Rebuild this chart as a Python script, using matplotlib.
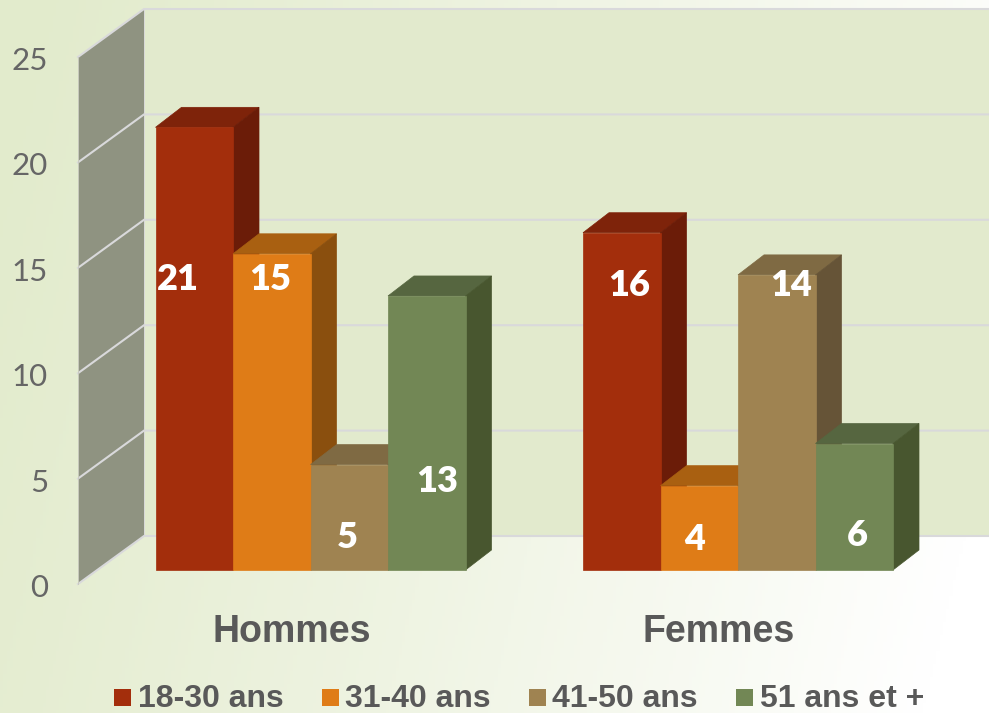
import numpy as np
import matplotlib
matplotlib.use('Agg')
import matplotlib.pyplot as plt
from matplotlib.patches import Polygon, Rectangle

groups = ['Hommes', 'Femmes']
series = ['18-30 ans', '31-40 ans', '41-50 ans', '51 ans et +']
hommes = [21, 15, 5, 13]
femmes = [16, 4, 14, 6]
ticks = [0, 5, 10, 15, 20, 25]

front = ['#A32E0C', '#DF7C17', '#9F8351', '#728755']
top = ['#7E230A', '#A96011', '#7F6A43', '#566640']
side = ['#6B1C08', '#8A4F0E', '#665437', '#48562F']

W, H = 989, 713
PX = 21.08          # pixels per unit
BASE = 570          # pixel row of value 0 at the bar front
group_x = [155.5, 583]
bar_w = 77.5
depth_x, depth_y = 26, 20

# hand placed data labels, they do not sit at a fixed spot in the bars
label_x = [[178, 270, 347, 437], [629, 695, 791, 857]]
label_y = [[279, 280, 538, 482], [285, 540, 285, 535]]


def row(p):
    # pixel row to value units
    return (BASE - p) / PX


fig = plt.figure(figsize=(W / 100, H / 100), dpi=100)
ax = fig.add_axes([0, 0, 1, 1])
ax.set_xlim(0, W)
ax.set_ylim(row(H), row(0))
ax.axis('off')

# background gradient, green on the left to white at the bottom right
xx, yy = np.meshgrid(np.linspace(0, 1, 300), np.linspace(0, 1, 220))
t = np.clip(0.92 * xx + 0.16 * yy - 0.02, 0, 1)[..., None] ** 1.15
c0 = np.array([0xE2, 0xEB, 0xCC]) / 255
img = c0 + (1 - c0) * t
ax.imshow(img, extent=[0, W, row(H), row(0)], aspect='auto', zorder=0)

# back wall and left wall
wall_x0, wall_x1 = 78, 144
front_off = (BASE - 584) / PX
back_off = (BASE - 536) / PX
vmax = ticks[-1]
ax.add_patch(Rectangle((wall_x1, back_off), W - wall_x1, vmax, fc='#E2EACD', ec='none', zorder=1))
ax.add_patch(Polygon([(wall_x0, front_off), (wall_x1, back_off), (wall_x1, vmax + back_off),
                      (wall_x0, vmax + front_off)], fc='#8F9381', ec='none', zorder=1))

for v in ticks:
    ax.plot([wall_x0, wall_x1, W], [v + front_off, v + back_off, v + back_off],
            color='#D9D9DB', lw=1.5, zorder=2, solid_joinstyle='miter')
    ax.text(48, v + front_off - 4 / PX, str(v), ha='right', va='center', fontsize=22.5,
            family='Lato', weight='normal', color='#666666', zorder=6)
ax.plot([wall_x0, wall_x0], [front_off, vmax + front_off], color='#C9CBBE', lw=0.7, zorder=2)
ax.plot([wall_x1, wall_x1], [back_off, vmax + back_off], color='#D9D9D9', lw=0.7, zorder=2)

# bars
dy = depth_y / PX
for g, values in enumerate([hommes, femmes]):
    for i, v in enumerate(values):
        x0 = group_x[g] + i * bar_w
        x1 = x0 + bar_w
        ax.add_patch(Polygon([(x0, v), (x0 + depth_x, v + dy), (x1 + depth_x, v + dy), (x1, v)],
                             fc=top[i], ec=top[i], lw=0.5, zorder=3))
        ax.add_patch(Polygon([(x1, 0), (x1 + depth_x, dy), (x1 + depth_x, v + dy), (x1, v)],
                             fc=side[i], ec=side[i], lw=0.5, zorder=3))
        ax.add_patch(Rectangle((x0, 0), bar_w, v, fc=front[i], ec=front[i], lw=0.5, zorder=3))
        ax.text(label_x[g][i], row(label_y[g][i]), str(v), ha='center', va='center', fontsize=26,
                family='Lato', weight='heavy', color='white', zorder=5)
    ax.text(group_x[g] + 2 * bar_w - 19, row(632), groups[g], ha='center', va='center',
            fontsize=27, family='Liberation Sans', weight='bold', color='#595959', zorder=5)

# legend
leg_sq = [114, 322, 529, 736]
leg_tx = [138, 345, 552, 760]
for i, name in enumerate(series):
    ax.add_patch(Rectangle((leg_sq[i], row(706)), 17, 17 / PX, fc=front[i], ec='none', zorder=5))
    ax.text(leg_tx[i], row(699), name, ha='left', va='center', fontsize=23,
            family='Liberation Sans', weight='bold', color='#595959', zorder=5)

fig.savefig('out.png', dpi=100)
